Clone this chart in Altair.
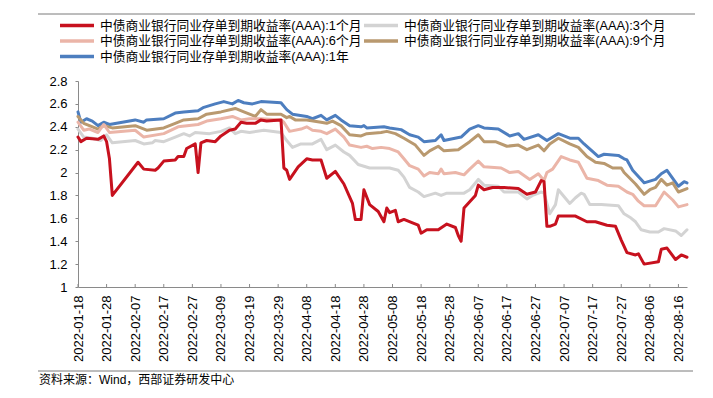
import altair as alt
import pandas as pd

series_names = [
    "中债商业银行同业存单到期收益率(AAA):1个月",
    "中债商业银行同业存单到期收益率(AAA):3个月",
    "中债商业银行同业存单到期收益率(AAA):6个月",
    "中债商业银行同业存单到期收益率(AAA):9个月",
    "中债商业银行同业存单到期收益率(AAA):1年",
]
series_colors = ["#C7111E", "#D3D3D3", "#EBB5A8", "#B9996F", "#4D7EBF"]

dates_1m = ["01-18", "01-19", "01-21", "01-25", "01-27", "01-28", "01-29", "01-30", "02-08", "02-10",
            "02-14", "02-15", "02-17", "02-21", "02-22", "02-24", "02-25", "02-28", "03-01", "03-02",
            "03-04", "03-07", "03-09", "03-12", "03-14", "03-16", "03-18", "03-21", "03-23", "03-25",
            "03-30", "03-31", "04-01", "04-02", "04-05", "04-08", "04-10", "04-13", "04-15", "04-18",
            "04-21", "04-24", "04-25", "04-27", "04-28", "04-30", "05-03", "05-05", "05-06", "05-07",
            "05-09", "05-10", "05-12", "05-15", "05-17", "05-18", "05-20", "05-24", "05-27", "05-30",
            "05-31", "06-01", "06-02", "06-06", "06-07", "06-09", "06-12", "06-16", "06-21", "06-24",
            "06-27", "06-29", "06-30", "07-01", "07-02", "07-04", "07-05", "07-11", "07-15", "07-18",
            "07-22", "07-25", "07-27", "07-29", "08-01", "08-02", "08-04", "08-09", "08-10", "08-12",
            "08-15", "08-17", "08-19"]
values_1m = [2.31, 2.27, 2.30, 2.29, 2.32, 2.27, 2.12, 1.80, 2.09, 2.03,
             2.02, 2.04, 2.10, 2.11, 2.14, 2.14, 2.21, 2.25, 2.00, 2.26,
             2.28, 2.27, 2.32, 2.37, 2.38, 2.44, 2.43, 2.43, 2.46, 2.45,
             2.46, 2.04, 2.02, 1.94, 2.05, 2.12, 2.11, 2.11, 1.95, 2.01,
             1.90, 1.73, 1.59, 1.59, 1.85, 1.72, 1.66, 1.57, 1.69, 1.65,
             1.67, 1.57, 1.59, 1.56, 1.54, 1.47, 1.50, 1.50, 1.55, 1.52,
             1.45, 1.40, 1.69, 1.80, 1.89, 1.85, 1.87, 1.87, 1.86, 1.81,
             1.83, 1.93, 1.92, 1.53, 1.53, 1.55, 1.62, 1.62, 1.57, 1.57,
             1.54, 1.53, 1.41, 1.30, 1.28, 1.29, 1.20, 1.22, 1.33, 1.34,
             1.24, 1.28, 1.26]

dates_3m = ["01-18", "01-20", "01-23", "01-26", "01-28", "01-30", "02-07", "02-10", "02-13", "02-14",
            "02-17", "02-21", "02-24", "02-26", "02-28", "03-05", "03-09", "03-12", "03-14", "03-16",
            "03-19", "03-24", "03-30", "04-01", "04-03", "04-06", "04-10", "04-13", "04-15", "04-18",
            "04-21", "04-23", "04-26", "04-30", "05-07", "05-10", "05-12", "05-14", "05-17", "05-19",
            "05-23", "05-25", "05-27", "06-02", "06-04", "06-07", "06-09", "06-14", "06-16", "06-21",
            "06-24", "06-26", "06-29", "06-30", "07-02", "07-04", "07-05", "07-09", "07-11", "07-13",
            "07-14", "07-16", "07-20", "07-26", "07-28", "07-30", "08-01", "08-03", "08-06", "08-09",
            "08-11", "08-15", "08-17", "08-19"]
values_3m = [2.38, 2.31, 2.30, 2.28, 2.33, 2.26, 2.28, 2.25, 2.26, 2.28,
             2.27, 2.31, 2.34, 2.32, 2.35, 2.34, 2.36, 2.39, 2.34, 2.36,
             2.35, 2.37, 2.35, 2.28, 2.22, 2.25, 2.25, 2.29, 2.20, 2.24,
             2.18, 2.15, 2.07, 2.04, 2.04, 2.02, 1.96, 1.87, 1.83, 1.79,
             1.82, 1.80, 1.82, 1.82, 1.85, 1.94, 1.89, 1.88, 1.83, 1.83,
             1.77, 1.80, 1.83, 1.82, 1.64, 1.72, 1.85, 1.73, 1.78, 1.82,
             1.81, 1.72, 1.72, 1.71, 1.64, 1.61, 1.57, 1.50, 1.48, 1.48,
             1.51, 1.49, 1.45, 1.50]

dates_6m = ["01-18", "01-20", "01-22", "01-25", "01-27", "01-29", "02-07", "02-10", "02-17", "02-22",
            "03-01", "03-04", "03-09", "03-13", "03-16", "03-19", "03-23", "03-30", "03-31", "04-02",
            "04-06", "04-08", "04-10", "04-13", "04-15", "04-18", "04-21", "04-23", "04-27", "04-29",
            "05-01", "05-04", "05-07", "05-10", "05-12", "05-14", "05-17", "05-19", "05-21", "05-24",
            "05-25", "05-26", "05-30", "06-02", "06-04", "06-07", "06-09", "06-15", "06-18", "06-21",
            "06-25", "06-28", "06-30", "07-01", "07-03", "07-06", "07-09", "07-12", "07-15", "07-19",
            "07-22", "07-26", "07-29", "07-31", "08-02", "08-04", "08-08", "08-11", "08-14", "08-16",
            "08-19"]
values_6m = [2.44, 2.37, 2.38, 2.35, 2.42, 2.35, 2.37, 2.31, 2.34, 2.40,
             2.42, 2.45, 2.47, 2.49, 2.46, 2.47, 2.47, 2.46, 2.44, 2.36,
             2.38, 2.40, 2.37, 2.36, 2.34, 2.38, 2.31, 2.24, 2.22, 2.23,
             2.21, 2.22, 2.21, 2.18, 2.12, 2.06, 2.03, 1.97, 2.00, 1.99,
             2.03, 1.99, 2.00, 1.98, 2.03, 2.10, 2.05, 2.04, 2.00, 2.01,
             1.94, 1.99, 1.93, 2.00, 2.03, 2.14, 2.11, 2.09, 1.95, 1.93,
             1.89, 1.88, 1.83, 1.81, 1.75, 1.71, 1.71, 1.83, 1.76, 1.70,
             1.72]

dates_9m = ["01-18", "01-20", "01-22", "01-25", "01-27", "01-30", "02-07", "02-11", "02-17", "02-21",
            "02-24", "03-01", "03-04", "03-09", "03-14", "03-17", "03-21", "03-23", "03-25", "03-30",
            "04-01", "04-02", "04-04", "04-08", "04-13", "04-15", "04-17", "04-20", "04-23", "04-27",
            "04-29", "05-04", "05-06", "05-09", "05-12", "05-16", "05-19", "05-21", "05-24", "05-26",
            "05-31", "06-04", "06-07", "06-09", "06-13", "06-17", "06-21", "06-24", "06-28", "06-30",
            "07-02", "07-05", "07-09", "07-12", "07-15", "07-18", "07-21", "07-24", "07-27", "07-28",
            "08-01", "08-04", "08-06", "08-08", "08-10", "08-12", "08-14", "08-16", "08-19"]
values_9m = [2.49, 2.43, 2.41, 2.38, 2.41, 2.39, 2.41, 2.37, 2.39, 2.43,
             2.46, 2.47, 2.51, 2.53, 2.56, 2.53, 2.49, 2.55, 2.51, 2.51,
             2.48, 2.49, 2.46, 2.46, 2.44, 2.43, 2.45, 2.41, 2.33, 2.32,
             2.34, 2.35, 2.36, 2.34, 2.30, 2.24, 2.15, 2.19, 2.23, 2.19,
             2.20, 2.27, 2.33, 2.27, 2.27, 2.23, 2.24, 2.20, 2.24, 2.19,
             2.25, 2.30, 2.25, 2.22, 2.14, 2.09, 2.08, 2.04, 2.04, 2.00,
             1.90, 1.81, 1.85, 1.87, 1.94, 1.89, 1.91, 1.83, 1.86]

dates_1y = ["01-18", "01-19", "01-21", "01-23", "01-25", "01-27", "01-29", "02-07", "02-10", "02-11",
            "02-17", "02-21", "02-24", "03-01", "03-03", "03-07", "03-10", "03-13", "03-15", "03-17",
            "03-20", "03-23", "03-30", "04-01", "04-03", "04-08", "04-10", "04-13", "04-15", "04-18",
            "04-20", "04-23", "04-27", "04-28", "04-29", "05-05", "05-07", "05-11", "05-14", "05-17",
            "05-19", "05-23", "05-25", "05-26", "06-01", "06-04", "06-07", "06-09", "06-14", "06-18",
            "06-21", "06-23", "06-28", "07-01", "07-05", "07-09", "07-12", "07-14", "07-19", "07-21",
            "07-26", "07-28", "07-29", "07-31", "08-04", "08-08", "08-10", "08-12", "08-16", "08-18",
            "08-19"]
values_1y = [2.53, 2.44, 2.47, 2.45, 2.41, 2.44, 2.42, 2.46, 2.44, 2.46,
             2.47, 2.52, 2.53, 2.54, 2.57, 2.60, 2.62, 2.60, 2.63, 2.61,
             2.60, 2.62, 2.61, 2.55, 2.51, 2.49, 2.47, 2.50, 2.46, 2.50,
             2.46, 2.41, 2.40, 2.41, 2.39, 2.40, 2.39, 2.375, 2.33, 2.31,
             2.27, 2.28, 2.33, 2.28, 2.31, 2.38, 2.41, 2.39, 2.38, 2.32,
             2.34, 2.29, 2.33, 2.28, 2.34, 2.30, 2.30, 2.25, 2.14, 2.16,
             2.15, 2.12, 2.11, 2.02, 1.91, 1.94, 1.99, 2.02, 1.88, 1.92,
             1.91]

x_tick_labels = ["2022-01-18", "2022-01-28", "2022-02-07", "2022-02-17", "2022-02-27", "2022-03-09",
                 "2022-03-19", "2022-03-29", "2022-04-08", "2022-04-18", "2022-04-28", "2022-05-08",
                 "2022-05-18", "2022-05-28", "2022-06-07", "2022-06-17", "2022-06-27", "2022-07-07",
                 "2022-07-17", "2022-07-27", "2022-08-06", "2022-08-16"]
y_ticks = [1.0, 1.2, 1.4, 1.6, 1.8, 2.0, 2.2, 2.4, 2.6, 2.8]
x_domain = ["2022-01-18", "2022-08-19"]

title_text = "图 14：中债商业银行同业存单到期收益率（%）"
source_text = "资料来源：Wind，西部证券研发中心"

all_dates = [dates_1m, dates_3m, dates_6m, dates_9m, dates_1y]
all_values = [values_1m, values_3m, values_6m, values_9m, values_1y]


def ms(s):
    return int(pd.Timestamp(s, tz="UTC").value // 10**6)


frames = []
for name, ds, vs in zip(series_names, all_dates, all_values):
    frames.append(pd.DataFrame({"t": [ms("2022-" + d) for d in ds], "value": vs, "series": name}))
df = pd.concat(frames, ignore_index=True)
ticks_df = pd.DataFrame({"t": [ms(s) for s in x_tick_labels]})

W, H = 609, 206
LAB_FONT = "Liberation Sans, Noto Sans CJK SC"
AX_COLOR = "#8a8a8a"

x_scale = alt.Scale(type="utc", domain=[ms(s) for s in x_domain], nice=False)
y_scale = alt.Scale(domain=[1.0, 2.8], nice=False, zero=False)

x_axis = alt.Axis(
    values=[ms(s) for s in x_tick_labels],
    labelExpr="utcFormat(datum.value, '%Y-%m-%d')",
    labelAngle=270, labelAlign="right", labelBaseline="middle",
    labelFontSize=13, labelFont="Liberation Sans", labelColor="#000000",
    labelPadding=8, ticks=False, domainColor=AX_COLOR, domainWidth=1, grid=False,
    title=None, labelOverlap=False, labelFlush=False, labelBound=False,
)
y_axis = alt.Axis(
    values=y_ticks, format="~g", labelFontSize=13, labelFont="Liberation Sans",
    labelColor="#000000", labelPadding=8, tickSize=3, tickColor=AX_COLOR,
    domainColor=AX_COLOR, grid=False, title=None,
)

legend = alt.Legend(
    title=None, orient="none", legendX=-20, legendY=-62.5, direction="horizontal", columns=2,
    symbolType="stroke", symbolSize=1156, symbolStrokeWidth=3.5, clipHeight=14,
    rowPadding=1.5, columnPadding=0, labelOffset=4, labelFontSize=12.75,
    labelFont=LAB_FONT, labelColor="#000000", labelLimit=500, padding=0,
)
color = alt.Color("series:N", scale=alt.Scale(domain=series_names, range=series_colors),
                  legend=legend)

draw_order = [4, 3, 2, 1, 0]
layers = []
for idx in draw_order:
    layer = (
        alt.Chart(df)
        .transform_filter(alt.datum.series == series_names[idx])
        .mark_line(strokeWidth=3, strokeJoin="round", strokeCap="round")
        .encode(
            x=alt.X("t:Q", scale=x_scale, axis=x_axis),
            y=alt.Y("value:Q", scale=y_scale, axis=y_axis),
            color=color,
        )
    )
    layers.append(layer)

tick_marks = alt.Chart(ticks_df).mark_rule(color=AX_COLOR, strokeWidth=1).encode(
    x=alt.X("t:Q", scale=x_scale, axis=x_axis),
    y=alt.value(H - 3), y2=alt.value(H),
)

one = pd.DataFrame({"k": [0]})
top_rule = alt.Chart(one).mark_rule(color="#7a7a7a", strokeWidth=1).encode(
    x=alt.value(-40), x2=alt.value(617), y=alt.value(-67))
bottom_rule = alt.Chart(one).mark_rule(color="#7a7a7a", strokeWidth=1).encode(
    x=alt.value(-40), x2=alt.value(615), y=alt.value(290))
source = alt.Chart(one).mark_text(
    text=source_text, align="left", baseline="middle", fontSize=12, font=LAB_FONT, color="#000000"
).encode(x=alt.value(-39), y=alt.value(299))
title = alt.Chart(one).mark_text(
    text=title_text, align="left", baseline="middle", fontSize=13, font=LAB_FONT, color="#000000"
).encode(x=alt.value(-38), y=alt.value(-83))

chart = (
    alt.layer(tick_marks, *layers, top_rule, bottom_rule, source, title)
    .properties(
        width=W, height=H,
        autosize=alt.AutoSizeParams(type="none"),
        padding={"left": 70, "top": 73, "right": 12, "bottom": 100},
    )
    .configure_view(stroke=None)
)

chart.save("out.html", embed_options={"renderer": "svg", "actions": False})
